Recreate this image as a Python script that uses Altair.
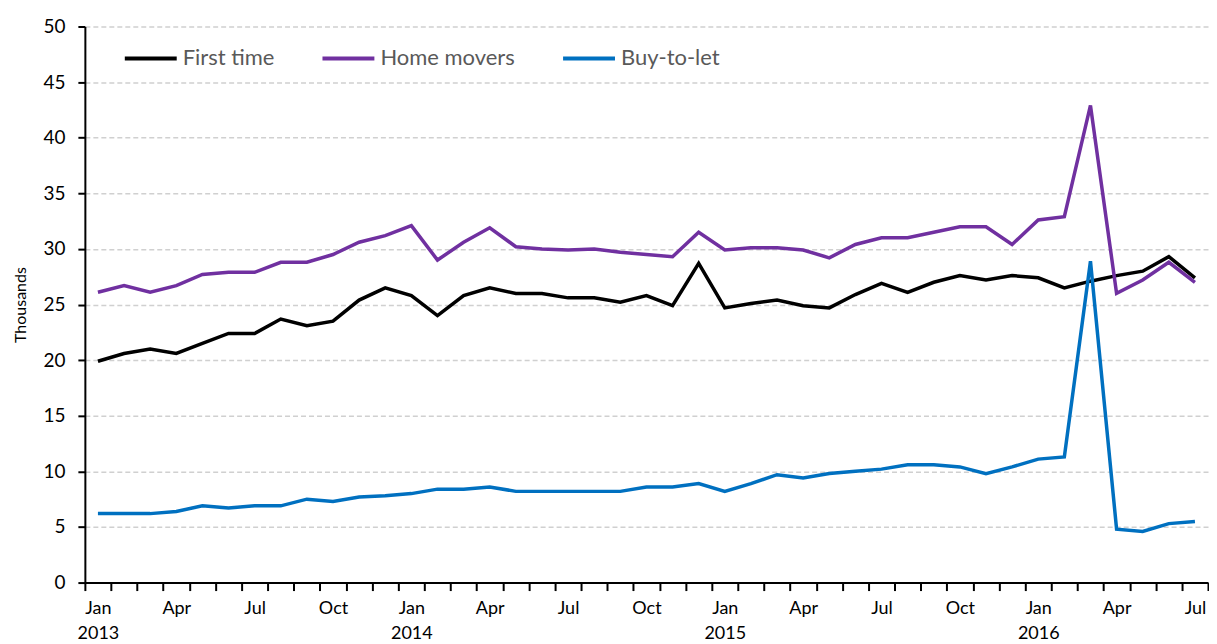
import altair as alt
import pandas as pd

months = list(range(43))  # Jan 2013 .. Jul 2016

first_time = [19.9, 20.6, 21.0, 20.6, 21.5, 22.4, 22.4, 23.7, 23.1, 23.5, 25.4, 26.5,
              25.8, 24.0, 25.8, 26.5, 26.0, 26.0, 25.6, 25.6, 25.2, 25.8, 24.9, 28.7,
              24.7, 25.1, 25.4, 24.9, 24.7, 25.9, 26.9, 26.1, 27.0, 27.6, 27.2, 27.6,
              27.4, 26.5, 27.1, 27.6, 28.0, 29.3, 27.4]
home_movers = [26.1, 26.7, 26.1, 26.7, 27.7, 27.9, 27.9, 28.8, 28.8, 29.5, 30.6, 31.2,
               32.1, 29.0, 30.6, 31.9, 30.2, 30.0, 29.9, 30.0, 29.7, 29.5, 29.3, 31.5,
               29.9, 30.1, 30.1, 29.9, 29.2, 30.4, 31.0, 31.0, 31.5, 32.0, 32.0, 30.4,
               32.6, 32.9, 42.9, 26.0, 27.2, 28.8, 27.0]
buy_to_let = [6.2, 6.2, 6.2, 6.4, 6.9, 6.7, 6.9, 6.9, 7.5, 7.3, 7.7, 7.8,
              8.0, 8.4, 8.4, 8.6, 8.2, 8.2, 8.2, 8.2, 8.2, 8.6, 8.6, 8.9,
              8.2, 8.9, 9.7, 9.4, 9.8, 10.0, 10.2, 10.6, 10.6, 10.4, 9.8, 10.4,
              11.1, 11.3, 28.9, 4.8, 4.6, 5.3, 5.5]

series_names = ["First time", "Home movers", "Buy-to-let"]
series_colors = ["#000000", "#7030a0", "#0070c0"]

rows = []
for name, vals in zip(series_names, [first_time, home_movers, buy_to_let]):
    for m, v in zip(months, vals):
        rows.append({"month": m, "value": v, "series": name})
df = pd.DataFrame(rows)

label_expr = (
    "(datum.value % 3 == 0) ? ((datum.value % 12 == 0) ? "
    "['Jan', '' + (2013 + floor(datum.value / 12))] : "
    "[['Jan','Feb','Mar','Apr','May','Jun','Jul','Aug','Sep','Oct','Nov','Dec'][datum.value % 12]]) : ''"
)

FONT = "Lato"

chart = alt.Chart(df).mark_line(strokeWidth=3.5).encode(
    x=alt.X(
        "month:O",
        title=None,
        bandPosition=0.5,
        scale=alt.Scale(type="band", paddingInner=0, paddingOuter=0),
        axis=alt.Axis(
            tickBand="extent",
            labelExpr=label_expr,
            labelAngle=0,
            labelFont=FONT,
            labelFontSize=18,
            labelColor="#000000",
            labelLineHeight=25,
            labelPadding=9,
            tickColor="#000000",
            tickSize=8,
            tickWidth=2,
            domainColor="#000000",
            domainWidth=2,
            grid=False,
            labelOverlap=False,
        ),
    ),
    y=alt.Y(
        "value:Q",
        title="Thousands",
        scale=alt.Scale(domain=[0, 50]),
        axis=alt.Axis(
            values=list(range(0, 55, 5)),
            labelFont=FONT,
            labelFontSize=19,
            labelColor="#000000",
            labelPadding=13,
            tickColor="#000000",
            tickSize=7,
            tickWidth=2,
            domainColor="#000000",
            domainWidth=2,
            grid=True,
            gridColor="#d0d0d0",
            gridDash=[5, 3],
            gridWidth=1.5,
            titleFont=FONT,
            titleFontSize=16,
            titleFontWeight="normal",
            titleColor="#000000",
            titlePadding=14,
        ),
    ),
    color=alt.Color(
        "series:N",
        scale=alt.Scale(domain=series_names, range=series_colors),
        sort=series_names,
        legend=alt.Legend(
            title=None,
            orient="none",
            legendX=38,
            legendY=4,
            direction="horizontal",
            symbolType="stroke",
            symbolSize=2704,
            symbolStrokeWidth=4,
            labelFont=FONT,
            labelFontSize=22,
            labelColor="#595959",
            labelOffset=4,
            columnPadding=40,
        ),
    ),
).properties(
    width=1125,
    height=557,
    padding={"left": 4, "top": 9, "right": 0, "bottom": 0},
).configure_view(stroke=None)

chart.save("out.html", embed_options={"renderer": "svg", "actions": False})
